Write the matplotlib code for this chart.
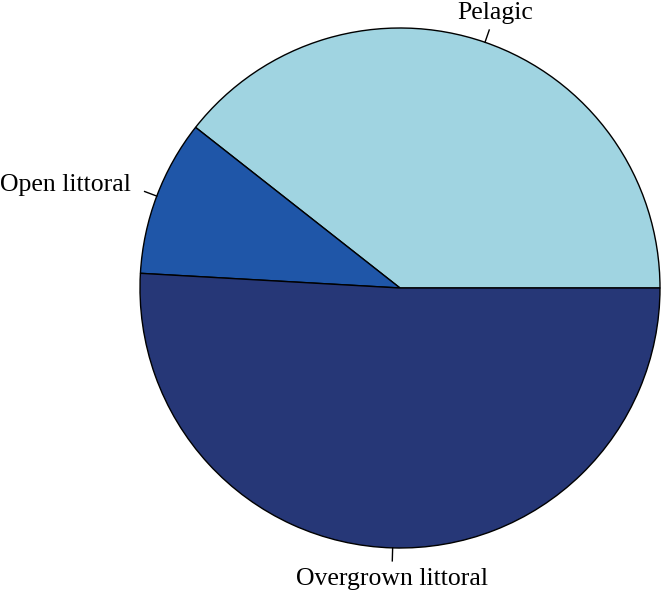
import numpy as np
import matplotlib
matplotlib.use("Agg")
import matplotlib.pyplot as plt

categories = ["Pelagic", "Open littoral", "Overgrown littoral"]
values = [39.4, 9.7, 50.9]
colors = ["#A0D4E1", "#1F56A8", "#263777"]

W, H = 661, 597
fig = plt.figure(figsize=(W / 100, H / 100), dpi=100)
ax = fig.add_axes([0, 0, 1, 1])
R = 260.0
cx, cy = 400.0, 288.0

wedges, _ = ax.pie(values, colors=colors, startangle=0, counterclock=True,
                   radius=1.0, center=(0, 0),
                   wedgeprops=dict(edgecolor="black", linewidth=1.0),
                   frame=True)
ax.set_xlim(-cx / R, (W - cx) / R)
ax.set_ylim(-(H - cy) / R, cy / R)
ax.set_aspect("auto")
ax.axis("off")

font = dict(family="Liberation Serif", size=18.5)
for w, lab in zip(wedges, categories):
    mid = np.deg2rad((w.theta1 + w.theta2) / 2)
    x, y = np.cos(mid), np.sin(mid)
    ax.plot([x, 1.05 * x], [y, 1.05 * y], color="black", lw=1.0)
    if abs(x) < 0.4:
        ha = "center"
        tx = 1.12 * x
    else:
        ha = "right" if x < 0 else "left"
        tx = 1.105 * x
    ax.text(tx, 1.12 * y, lab, ha=ha, va="center", **font)

fig.savefig("out.png", dpi=100)
